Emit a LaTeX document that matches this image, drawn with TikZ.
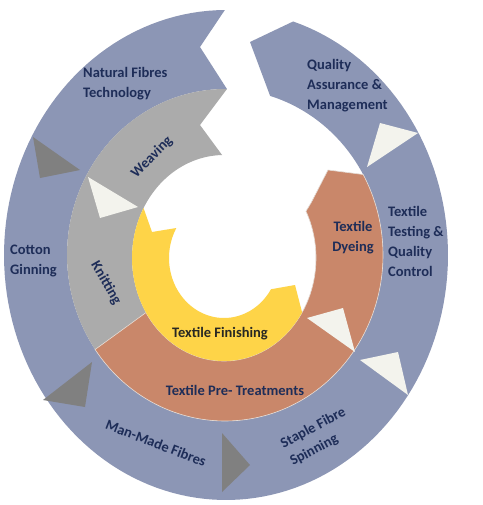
\documentclass[tikz,border=0pt]{standalone}
\usepackage{fontspec}
\setmainfont{Carlito}
\definecolor{ringblue}{RGB}{140,150,181}
\definecolor{ringgray}{RGB}{171,171,171}
\definecolor{ringorange}{RGB}{201,135,106}
\definecolor{ringyellow}{RGB}{254,212,72}
\definecolor{tridark}{RGB}{128,128,128}
\definecolor{trilight}{RGB}{243,243,237}
\definecolor{navy}{RGB}{30,45,88}
\definecolor{darktxt}{RGB}{40,40,35}
\tikzset{
  lbl/.style={font=\bfseries\fontsize{14.5}{20}\selectfont, text=navy, inner sep=0pt, align=left},
  lblc/.style={lbl, align=center},
  darktri/.style={fill=tridark},
  lighttri/.style={fill=trilight},
}
\begin{document}
\begin{tikzpicture}[x=1pt,y=-1pt]
\useasboundingbox[fill=white] (0,0) rectangle (482,505);
% outer blue ring
\fill[ringblue]
  plot[domain=-72.4:269.7, samples=160, variable=\t] ({226+222*cos(\t)},{255+245*sin(\t)})
  -- (200,47)
  -- plot[domain=270.7:-73.4, samples=160, variable=\t] ({225+158*cos(\t)},{255+166*sin(\t)})
  -- (250,42) -- cycle;
% gray ring (weaving / knitting)
\fill[ringgray]
  plot[domain=145.3:270.7, samples=80, variable=\t] ({225+158*cos(\t)},{255+166*sin(\t)})
  -- (200,125)
  -- plot[domain=268.8:148, samples=80, variable=\t] ({224+92*cos(\t)},{258+103*sin(\t)})
  -- cycle;
% orange ring (dyeing / pre-treatments)
\fill[ringorange, draw={rgb,255:red,228;green,220;blue,214}, line width=0.6pt]
  plot[domain=145.3:-29, samples=120, variable=\t] ({225+158*cos(\t)},{255+166*sin(\t)})
  -- (328,170) -- (311,203)
  -- plot[domain=-27:148, samples=120, variable=\t] ({224+92*cos(\t)},{258+103*sin(\t)})
  -- cycle;
% yellow ring (finishing)
\fill[ringyellow]
  plot[domain=31.9:209, samples=100, variable=\t] ({224+92*cos(\t)},{258+103*sin(\t)})
  -- (152,232)
  -- plot[domain=210:31.4, samples=100, variable=\t] ({224+55*cos(\t)},{258+60*sin(\t)})
  -- (295,285) -- cycle;
% triangles
\fill[darktri] (33,137) -- (40,178) -- (80,170) -- cycle;
\fill[lighttri] (88,177) -- (100,218) -- (138,207) -- cycle;
\fill[lighttri] (380,123) -- (418,133) -- (367,167) -- cycle;
\fill[lighttri] (307,318) -- (343,308) -- (355,352) -- cycle;
\fill[lighttri] (360,360) -- (398,352) -- (408,395) -- cycle;
\fill[darktri] (92,362) -- (43,400) -- (85,407) -- cycle;
\fill[darktri] (222,433) -- (250,465) -- (222,492) -- cycle;
% labels
\node[lbl, anchor=west] (nft) at (83,84) {Natural Fibres\\Technology};
\node[lbl, anchor=west] (qam) at (307,86) {Quality\\Assurance \&\\Management};
\node[lbl, anchor=west] (ttq) at (388,241) {Textile\\Testing \&\\Quality\\Control};
\node[lbl, anchor=west] (cg) at (10,261) {Cotton\\Ginning};
\node[lblc] (dye) at (353,238) {Textile\\Dyeing};
\node[lblc, text=darktxt] (fin) at (220,334) {Textile Finishing};
\node[lblc] (pre) at (235,390) {Textile Pre- Treatments};
\node[lbl, rotate=45] (wea) at (152,157) {Weaving};
\node[lbl, rotate=-60] (kni) at (106,283) {Knitting};
\node[lbl, rotate=-21] (mmf) at (156,443) {Man-Made Fibres};
\node[lbl, rotate=28] (sfs) at (318,437) {Staple Fibre\\Spinning};
\end{tikzpicture}
\end{document}
